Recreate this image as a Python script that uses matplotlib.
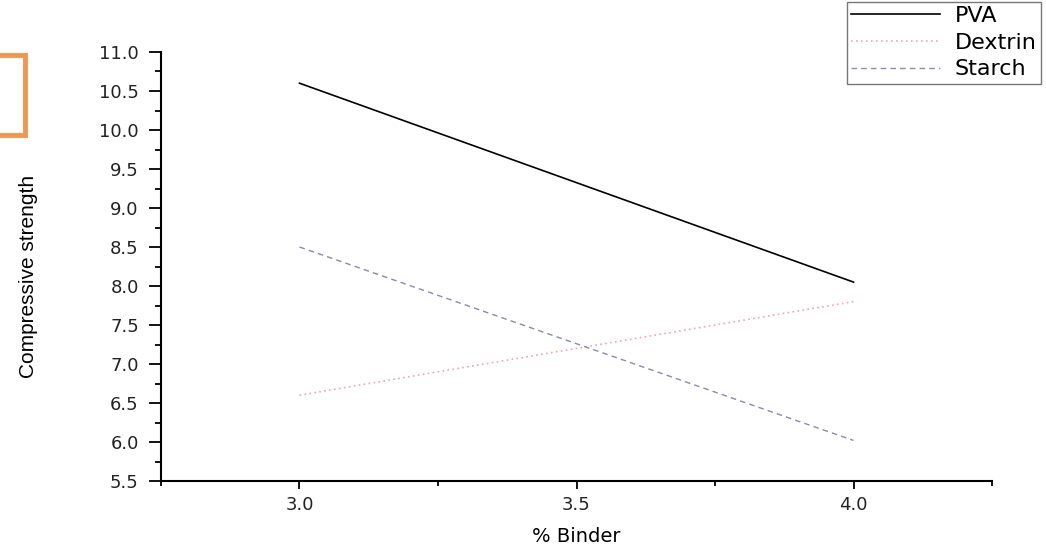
import matplotlib.pyplot as plt
from matplotlib.patches import Rectangle
from matplotlib.ticker import MultipleLocator

binder = [3.0, 4.0]
pva = [10.6, 8.05]
dextrin = [6.6, 7.8]
starch = [8.5, 6.02]

plt.rcParams['font.family'] = ['DejaVu Sans']

fig = plt.figure(figsize=(10.46, 5.52), dpi=100)
ax = fig.add_axes([0.1539, 0.1286, 0.7945, 0.7772])

ax.plot(binder, pva, color='black', linewidth=1.2, label='PVA')
ax.plot(binder, dextrin, color='#e8a8b8', linewidth=1.2, linestyle=(0, (1, 2)), label='Dextrin')
ax.plot(binder, starch, color='#8a8aaa', linewidth=1.0, linestyle=(0, (4, 3)), label='Starch')

ax.set_xlim(2.75, 4.25)
ax.set_ylim(5.5, 11.0)
ax.xaxis.set_major_locator(MultipleLocator(0.5))
ax.xaxis.set_minor_locator(MultipleLocator(0.25))
ax.yaxis.set_major_locator(MultipleLocator(0.5))
ax.yaxis.set_minor_locator(MultipleLocator(0.25))
ax.xaxis.set_major_formatter(plt.FormatStrFormatter('%.1f'))
ax.yaxis.set_major_formatter(plt.FormatStrFormatter('%.1f'))

for s in ['top', 'right']:
    ax.spines[s].set_visible(False)
for s in ['left', 'bottom']:
    ax.spines[s].set_linewidth(1.5)
ax.tick_params(axis='y', which='major', length=9, width=1.3, labelsize=13, pad=7, labelcolor='#222222')
ax.tick_params(axis='y', which='minor', length=4.5, width=1.3)
ax.tick_params(axis='x', which='major', length=6, width=1.3, labelsize=13, pad=5, labelcolor='#222222')
ax.tick_params(axis='x', which='minor', length=3.5, width=1.3)

ax.set_xlabel('% Binder', fontsize=14, labelpad=9)
fig.text(0.027, 0.5, 'Compressive strength', rotation=90, fontsize=15,
         ha='center', va='center', family=['Liberation Sans Narrow', 'Liberation Sans'])

leg = fig.legend(loc='upper right', bbox_to_anchor=(0.995, 0.997), fontsize=16,
                 frameon=True, fancybox=False, handlelength=4.0,
                 borderpad=0.2, labelspacing=0.3, handletextpad=0.65,
                 borderaxespad=0.0)
leg.get_frame().set_edgecolor('#555555')
leg.get_frame().set_linewidth(1.0)

# orange box fragment at the left edge
fig.patches.append(Rectangle((-0.01, 0.755), 0.034, 0.145, transform=fig.transFigure,
                             fill=False, edgecolor='#f5954a', linewidth=3.5))

fig.savefig('out.png', dpi=100)
